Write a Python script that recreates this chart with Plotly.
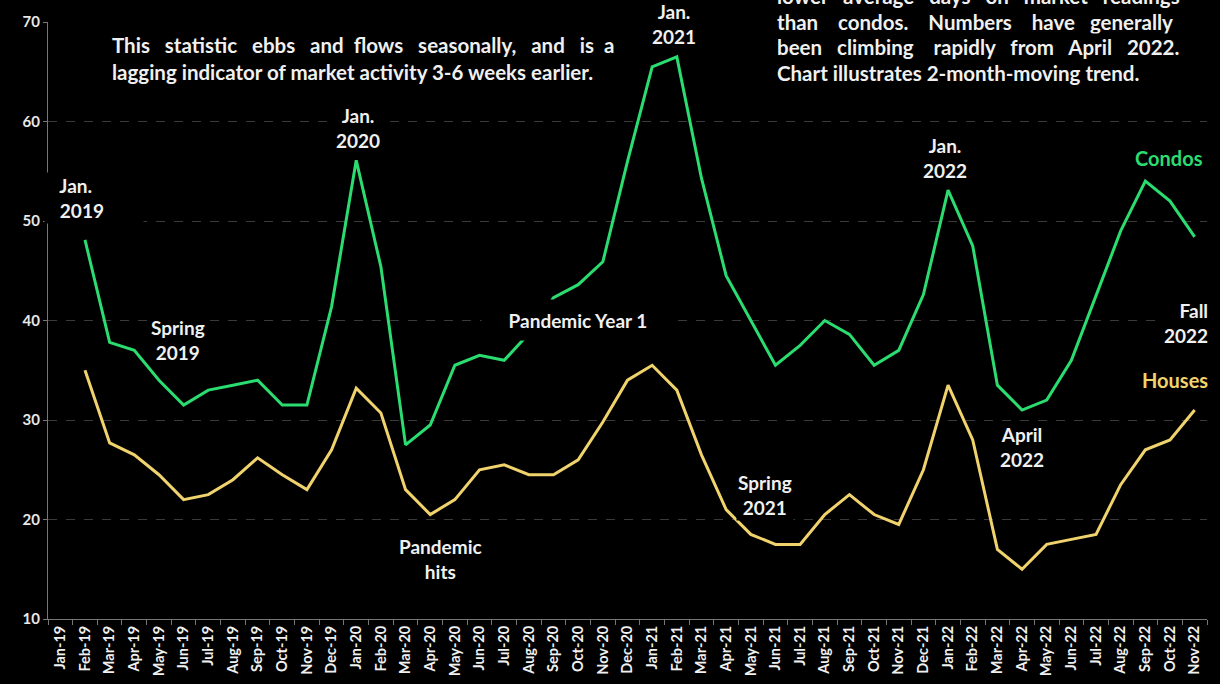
import plotly.graph_objects as go

# Monthly labels, Jan 2019 - Nov 2022
months = [
    "Jan-19", "Feb-19", "Mar-19", "Apr-19", "May-19", "Jun-19", "Jul-19", "Aug-19",
    "Sep-19", "Oct-19", "Nov-19", "Dec-19", "Jan-20", "Feb-20", "Mar-20", "Apr-20",
    "May-20", "Jun-20", "Jul-20", "Aug-20", "Sep-20", "Oct-20", "Nov-20", "Dec-20",
    "Jan-21", "Feb-21", "Mar-21", "Apr-21", "May-21", "Jun-21", "Jul-21", "Aug-21",
    "Sep-21", "Oct-21", "Nov-21", "Dec-21", "Jan-22", "Feb-22", "Mar-22", "Apr-22",
    "May-22", "Jun-22", "Jul-22", "Aug-22", "Sep-22", "Oct-22", "Nov-22",
]

# Average days on market, 2-month moving average (first month has no value)
condos = [
    None, 48.1, 37.8, 37.0, 34.0, 31.5, 33.0, 33.5, 34.0, 31.5, 31.5, 41.4,
    56.1, 45.4, 27.5, 29.5, 35.5, 36.5, 36.0, 38.7, 42.3, 43.6, 45.9, 56.0,
    65.5, 66.5, 54.3, 44.5, 40.0, 35.5, 37.5, 40.0, 38.6, 35.5, 37.0, 42.6,
    53.1, 47.5, 33.5, 31.0, 32.0, 36.0, 42.5, 49.0, 54.0, 52.0, 48.4,
]
houses = [
    None, 35.0, 27.7, 26.5, 24.5, 22.0, 22.5, 24.0, 26.2, 24.5, 23.0, 27.0,
    33.2, 30.7, 23.0, 20.5, 22.0, 25.0, 25.5, 24.5, 24.5, 26.0, 29.8, 34.0,
    35.5, 33.0, 26.5, 21.0, 18.5, 17.5, 17.5, 20.5, 22.5, 20.5, 19.5, 25.0,
    33.5, 28.0, 17.0, 15.0, 17.5, 18.0, 18.5, 23.5, 27.0, 28.0, 31.0,
]

GREEN = "#2bdc70"
YELLOW = "#f0d36c"
TEXT = "#f0f0f0"
FONT = "Lato"

W, H = 1220, 684
M_L, M_R, M_T, M_B = 48, 13, 22, 65
PL, PR, PT, PB = M_L, W - M_R, M_T, H - M_B
NB = "\u00a0"


def fx(xp):
    return (xp - PL) / (PR - PL)


def fy(yp):
    return (PB - yp) / (PB - PT)


def spread(words, gaps):
    """Join words with a given number of extra non-breaking spaces per gap."""
    out = words[0]
    for w, g in zip(words[1:], gaps):
        out += " " + NB * g + w
    return out


fig = go.Figure()
fig.add_trace(go.Scatter(x=months, y=condos, mode="lines", name="Condos",
                         line=dict(color=GREEN, width=3), connectgaps=False))
fig.add_trace(go.Scatter(x=months, y=houses, mode="lines", name="Houses",
                         line=dict(color=YELLOW, width=3), connectgaps=False))

annotations = []


def label(text, xp, yp, size=19, color=TEXT, xanchor="center", align="center",
          bg="black", width=None, height=None, pad=1):
    a = dict(text=text, x=fx(xp), y=fy(yp), xref="paper", yref="paper",
             xanchor=xanchor, yanchor="middle", align=align, showarrow=False,
             font=dict(family=FONT, size=size, color=color, weight="bold"),
             bgcolor=bg, borderpad=pad)
    if width:
        a["width"] = width
    if height:
        a["height"] = height
    annotations.append(a)


PS = 20.5  # paragraph text size

# Explanatory paragraphs (justified by widening the word gaps)
label(spread("This statistic ebbs and flows seasonally, and is a".split(),
             [2, 2, 2, 1, 2, 2, 2, 1, 2]), 110, 45, size=PS, xanchor="left", align="left")
label("lagging indicator of market activity 3-6 weeks earlier.", 110, 72, size=PS,
      xanchor="left", align="left")

label(spread("lower average days on market readings".split(), [2, 2, 2, 2, 2]),
      775, -4, size=PS, xanchor="left", align="left")
label(spread("than condos. Numbers have generally".split(), [3, 3, 3, 2]),
      775, 22, size=PS, xanchor="left", align="left")
label(spread("been climbing rapidly from April 2022.".split(), [2, 3, 2, 2, 2]),
      775, 47, size=PS, xanchor="left", align="left")
label("Chart illustrates 2-month-moving trend.", 775, 73, size=PS, xanchor="left", align="left")

# Event labels
label(NB * 3 + "Jan.<br>" + NB * 3 + "2019", 44, 198, xanchor="left", align="left", width=96)
label("Spring<br>2019", 178, 340)
label("Jan.<br>2020", 358, 128)
label("Pandemic Year 1", 578, 320, width=190, height=38)
label("Jan.<br>2021", 674, 24)
label("Pandemic<br>hits", 440, 559)
label("Spring<br>2021", 765, 495)
label("Jan.<br>2022", 945, 158)
label("April<br>2022", 1022, 447)
label("Fall<br>2022", 1210, 323, xanchor="right", align="right")

# Series names
label("Condos", 1205, 158, size=20, color=GREEN, xanchor="right")
label("Houses", 1210, 380, size=20, color=YELLOW, xanchor="right")

fig.update_layout(
    width=W, height=H,
    margin=dict(l=M_L, r=M_R, t=M_T, b=M_B, pad=0),
    paper_bgcolor="black", plot_bgcolor="black",
    showlegend=False,
    annotations=annotations,
    font=dict(family=FONT, color=TEXT),
)
fig.update_xaxes(
    type="category", range=[-0.5, len(months) - 0.5], automargin=False,
    tickson="boundaries", ticks="outside", ticklen=5, tickcolor="#777",
    showline=True, linecolor="#777", linewidth=1,
    showgrid=False, zeroline=False, tickangle=-90,
    tickfont=dict(family=FONT, size=14.5, color=TEXT, weight="bold"),
)
fig.update_yaxes(
    range=[10, 70], dtick=10, ticks="outside", ticklen=4, tickcolor="#777",
    showline=True, linecolor="#777", linewidth=1, automargin=False,
    showgrid=True, gridcolor="#3a3a3a", gridwidth=1, griddash="dash",
    zeroline=False,
    tickfont=dict(family=FONT, size=15, color="#e8e8e8", weight="bold"),
)

fig.write_html("out.html")
